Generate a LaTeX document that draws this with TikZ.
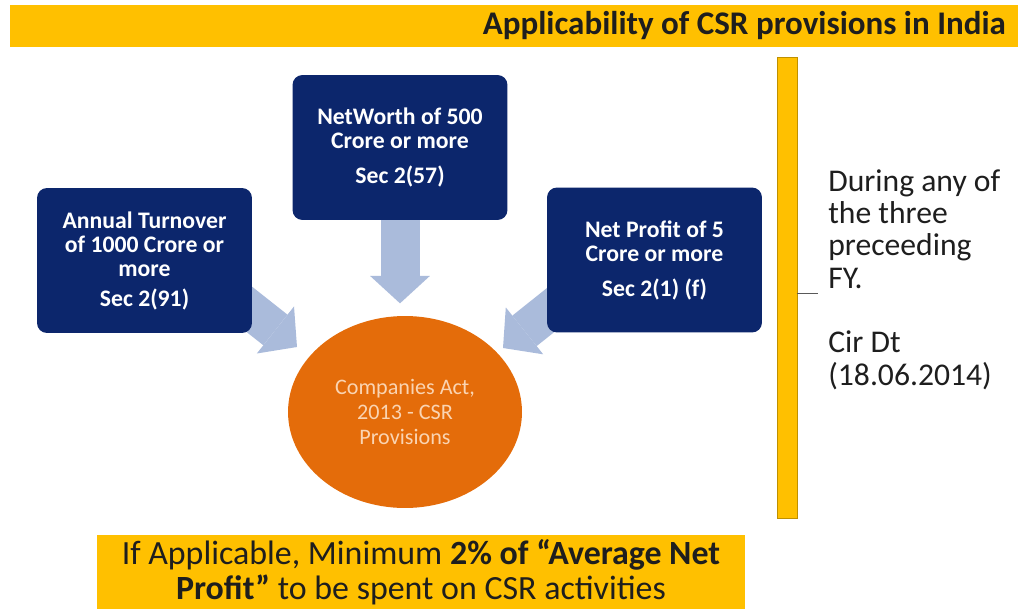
\documentclass[tikz,border=0pt]{standalone}
\usepackage{fontspec}
\setmainfont{Carlito}
\usetikzlibrary{arrows.meta,positioning,calc,shapes.geometric}

\definecolor{csrnavy}{RGB}{12,38,108}
\definecolor{csrorange}{RGB}{228,108,10}
\definecolor{csrgold}{RGB}{255,192,0}
\definecolor{csrblue}{RGB}{170,187,219}
\definecolor{csrpeach}{RGB}{250,212,178}
\definecolor{csrtext}{RGB}{30,30,30}

\pgfdeclarelayer{background}
\pgfsetlayers{background,main}

\tikzset{
  critbox/.style={fill=csrnavy, rounded corners=0.2cm, text=white, align=center,
    font=\bfseries\fontsize{13.5}{13.8}\selectfont,
    minimum width=4.3cm, minimum height=2.9cm, inner sep=2pt},
  bigarrow/.style={draw=csrblue, line width=0.78cm,
    -{Triangle[length=0.55cm,width=1.2cm,line width=0pt]}},
}

\begin{document}
\begin{tikzpicture}[x=0.02cm, y=-0.02cm]
  \useasboundingbox (0,0) rectangle (1018,609);
  % Banner
  \fill[csrgold] (10,5) rectangle (1018,47);
  \node[anchor=east, text=csrtext, font=\bfseries\fontsize{18.8}{20}\selectfont] (title) at (1012,26)
    {Applicability of CSR provisions in India};
  % Criteria
  \node[critbox] (turnover) at (144.5,260.5)
    {Annual Turnover\\of 1000 Crore or\\more\\[3pt]Sec 2(91)};
  \node[critbox] (networth) at (400,147.5)
    {NetWorth of 500\\Crore or more\\[6pt]Sec 2(57)};
  \node[critbox] (profit) at (654.5,260)
    {Net Profit of 5\\Crore or more\\[6pt]Sec 2(1) (f)};
  \node[ellipse, fill=csrorange, text=csrpeach, align=center, minimum width=4.68cm,
    minimum height=3.84cm, font=\fontsize{12.6}{14}\selectfont] (act) at (405,412)
    {Companies Act,\\2013 - CSR\\Provisions};
  % Arrows
  \coordinate (tipL) at (297,347);
  \coordinate (tipR) at (503,348);
  \begin{pgfonlayer}{background}
    \draw[bigarrow] ($(turnover.south east)+(-22,-39)$) -- (tipL);
    \draw[bigarrow] (networth.south) -- ++(0,83);
    \draw[bigarrow] ($(profit.south west)+(23,-38)$) -- (tipR);
  \end{pgfonlayer}
  % Period
  \node[fill=csrgold, draw=csrgold!75!black, line width=0.4pt, minimum width=0.4cm,
    minimum height=9.22cm, inner sep=0pt] (fybar) at (787,287.5) {};
  \draw[gray!70!black] ($(fybar.east)+(0,6)$) -- ++(21,0);
  \node[anchor=north west, align=left, inner sep=0pt, text=csrtext,
    font=\fontsize{18}{18.4}\selectfont] (period) at (828,169)
    {During any of\\the three\\preceeding\\FY.\\[18.4pt]Cir Dt\\(18.06.2014)};
  % Result
  \fill[csrgold] (97,535) rectangle (745,609);
  \node[align=center, text=csrtext, font=\fontsize{19.3}{19.8}\selectfont] (rule) at (421,572)
    {If Applicable, Minimum \textbf{2\% of “Average Net}\\\textbf{Profit”} to be spent on CSR activities};
\end{tikzpicture}
\end{document}
